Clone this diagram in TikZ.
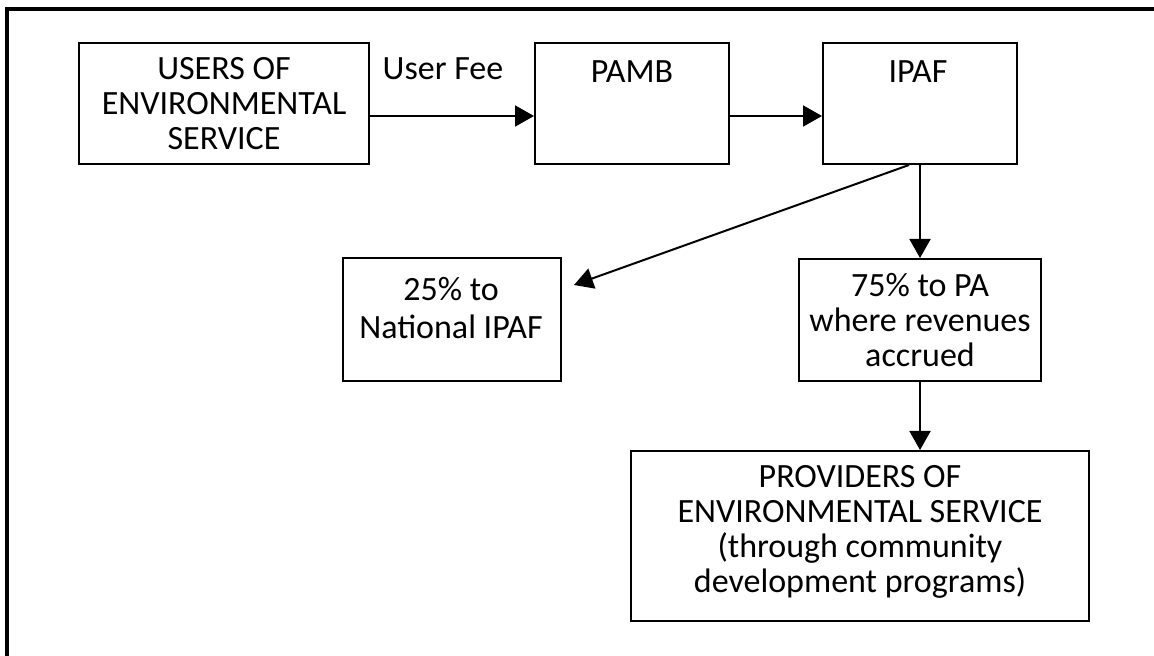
\documentclass[tikz,border=0pt]{standalone}
\usepackage{fontspec}
\setmainfont{Carlito}
\usetikzlibrary{arrows.meta}
\begin{document}
\begin{tikzpicture}[x=0.5pt,y=-0.5pt,
  box/.style={draw,line width=1pt,inner sep=0pt},
  txt/.style={inner sep=0pt,anchor=north,align=center,font=\fontsize{17}{17.5}\selectfont},
  arr/.style={line width=1pt,-{Triangle[length=9.5pt,width=10.5pt]}}]
\useasboundingbox (0,0) rectangle (1154,656);
\draw[line width=2pt] (7,656) -- (7,9) -- (1154,9);
% boxes
\node[box,minimum width=145pt,minimum height=60.5pt] (users) at (224,103.5) {};
\node[box,minimum width=97pt,minimum height=60.5pt] (pamb) at (632,103.5) {};
\node[box,minimum width=97pt,minimum height=60.5pt] (ipaf) at (920,103.5) {};
\node[box,minimum width=109pt,minimum height=61.5pt] (nat) at (452,319.5) {};
\node[box,minimum width=121pt,minimum height=61pt] (pa) at (920,320) {};
\node[box,minimum width=229pt,minimum height=85pt] (prov) at (860,536) {};
% texts
\node[txt] (tusers) at (224,57) {USERS OF\\ENVIRONMENTAL\\SERVICE};
\node[txt] (tfee) at (443,57) {User Fee};
\node[txt] (tpamb) at (632,60) {PAMB};
\node[txt] (tipaf) at (918,60) {IPAF};
\node[txt,font=\fontsize{17}{19}\selectfont] (tnat) at (451,277) {25\% to\\National IPAF};
\node[txt] (tpa) at (920,273) {75\% to PA\\where revenues\\accrued};
\node[txt] (tprov) at (860,465) {PROVIDERS OF\\ENVIRONMENTAL SERVICE\\(through community\\development programs)};
% connectors
\draw[arr] ([yshift=-6.25pt]users.east) -- ([yshift=-6.25pt]pamb.west);
\draw[arr] ([yshift=-6.25pt]pamb.east) -- ([yshift=-6.25pt]ipaf.west);
\draw[arr] ([xshift=-5.5pt]ipaf.south) -- ([xshift=6pt,yshift=17.25pt]nat.east);
\draw[arr] (ipaf.south) -- (pa.north);
\draw[arr] (pa.south) -- (pa.south |- prov.north);
\end{tikzpicture}
\end{document}
